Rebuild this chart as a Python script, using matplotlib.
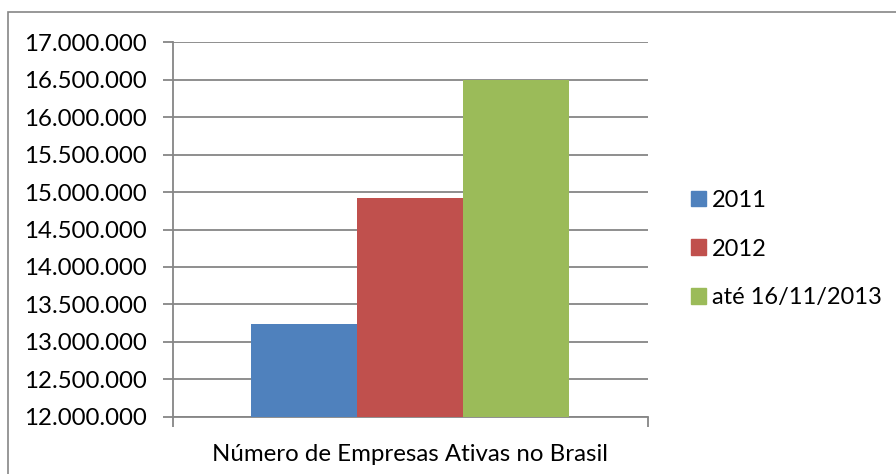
import matplotlib.pyplot as plt
from matplotlib.patches import Rectangle, Patch
from matplotlib.ticker import FuncFormatter, FixedLocator

plt.rcParams['font.family'] = ['Lato', 'DejaVu Sans']

category = "Número de Empresas Ativas no Brasil"
series = ["2011", "2012", "até 16/11/2013"]
values = [13240000, 14920000, 16500000]
colors = ["#4F81BD", "#C0504D", "#9BBB59"]

W, H = 896, 474
fig = plt.figure(figsize=(W / 100, H / 100), dpi=100)

# outer chart border (only left/top reach into the frame)
fig.patches.append(Rectangle((8 / W, -0.1), 1.2, 1 - 12 / H + 0.1,
                             transform=fig.transFigure, fill=False,
                             edgecolor="#868686", linewidth=1.2))

ax = fig.add_axes([172.7 / W, 1 - 416.7 / H, (648 - 172.7) / W, (416.7 - 42.3) / H])

bw = 0.2232
for i, (name, v, c) in enumerate(zip(series, values, colors)):
    ax.bar((i - 1) * bw, v - 12000000, bottom=12000000, width=bw, color=c, label=name, zorder=3)

ax.set_xlim(-0.5, 0.5)
ax.set_ylim(12000000, 17000000)
ax.set_yticks(range(12000000, 17000001, 500000))
ax.yaxis.set_major_formatter(FuncFormatter(lambda v, p: f"{int(v):,}".replace(",", ".")))
ax.grid(axis="y", color="#868686", linewidth=1.3, zorder=0)

ax.set_xticks([0])
ax.set_xticklabels([category])
ax.xaxis.set_minor_locator(FixedLocator([-0.5, 0.5]))
ax.tick_params(axis="x", which="major", length=0, pad=20, labelsize=17.3)
ax.tick_params(axis="x", which="minor", length=7, color="#868686", width=1.3)
ax.tick_params(axis="y", length=7, color="#868686", width=1.3, pad=12, labelsize=17.3)

for s in ("top", "right"):
    ax.spines[s].set_visible(False)
for s in ("left", "bottom"):
    ax.spines[s].set_color("#868686")
    ax.spines[s].set_linewidth(1.3)

handles = [Patch(color=c, label=n) for n, c in zip(series, colors)]
fig.legend(handles=handles, loc="center left", bbox_to_anchor=(691 / W, 1 - 249 / H),
           frameon=False, fontsize=17, handlelength=0.64, handleheight=0.64,
           handletextpad=0.25, labelspacing=1.17, borderpad=0, borderaxespad=0)

fig.savefig("out.png", dpi=100)
